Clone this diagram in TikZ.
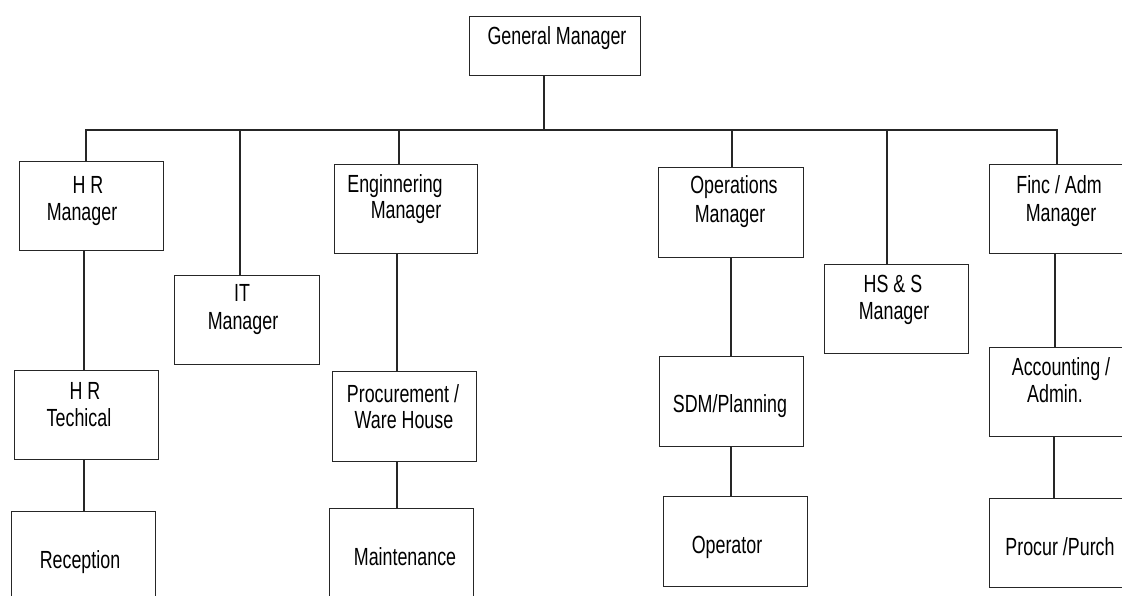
\documentclass[tikz,border=0pt]{standalone}
\usepackage{fontspec}
\setmainfont{Liberation Sans}[FakeStretch=0.72]
\definecolor{ink}{HTML}{262626}
\begin{document}
\begin{tikzpicture}[x=1pt,y=-1pt,
  box/.style={draw=ink, line width=1.3pt, rectangle, anchor=north west,
    inner sep=0pt, minimum width=144pt, minimum height=89pt},
  lbl/.style={anchor=base, inner sep=0pt, text=black,
    font=\fontsize{24.8}{28}\selectfont},
  wire/.style={draw=ink, line width=1.3pt}]
\useasboundingbox (0,0) rectangle (1122,595);
\clip (0,0) rectangle (1122,595);

% boxes
\node[box, minimum width=171pt, minimum height=59pt] (gm) at (469,16) {};
\node[box] (hrm) at (19,161) {};
\node[box, minimum width=145pt] (itm) at (174,275) {};
\node[box, minimum width=143pt] (eng) at (334,164) {};
\node[box, minimum width=145pt, minimum height=90pt] (ops) at (658,167) {};
\node[box] (hss) at (824,264) {};
\node[box, minimum width=150pt] (fin) at (989,164) {};
\node[box] (hrt) at (14,370) {};
\node[box, minimum height=100pt] (rec) at (11,511) {};
\node[box, minimum height=90pt] (prc) at (332,371) {};
\node[box, minimum height=100pt] (mnt) at (329,508) {};
\node[box, minimum height=90pt] (sdm) at (659,356) {};
\node[box, minimum height=90pt] (opr) at (663,496) {};
\node[box, minimum width=150pt] (acc) at (989,347) {};
\node[box, minimum width=150pt] (pur) at (989,498) {};

% labels
\node[lbl] (tgm) at (557,44) {General Manager};
\node[lbl] (thrm1) at (88,193) {H R};
\node[lbl] (thrm2) at (82,220) {Manager};
\node[lbl] (titm1) at (242,301) {IT};
\node[lbl] (titm2) at (243,329) {Manager};
\node[lbl] (teng1) at (395,192) {Enginnering};
\node[lbl] (teng2) at (406,218) {Manager};
\node[lbl] (tops1) at (734,193) {Operations};
\node[lbl] (tops2) at (730,222) {Manager};
\node[lbl] (thss1) at (893,292) {HS \& S};
\node[lbl] (thss2) at (894,319) {Manager};
\node[lbl] (tfin1) at (1059,193) {Finc / Adm};
\node[lbl] (tfin2) at (1061,221) {Manager};
\node[lbl] (thrt1) at (85,399) {H R};
\node[lbl] (thrt2) at (79,426) {Techical};
\node[lbl] (trec) at (80,568) {Reception};
\node[lbl] (tprc1) at (403,402) {Procurement /};
\node[lbl] (tprc2) at (404,428) {Ware House};
\node[lbl] (tmnt) at (405,565) {Maintenance};
\node[lbl] (tsdm) at (730,412) {SDM/Planning};
\node[lbl] (topr) at (727,553) {Operator};
\node[lbl] (tacc1) at (1061,375) {Accounting /};
\node[lbl] (tacc2) at (1055,402) {Admin.};
\node[lbl] (tpur) at (1060,555) {Procur /Purch};

% columns of the top-level bus
\coordinate (kgm) at (544,130);
\coordinate (khr) at (86,130);
\coordinate (kit) at (240,130);
\coordinate (ken) at (399,130);
\coordinate (kop) at (732,130);
\coordinate (khs) at (887,130);
\coordinate (kfn) at (1057,130);
% columns of the lower chains
\coordinate (chr) at (84,0);
\coordinate (cen) at (397,0);
\coordinate (cop) at (731,0);
\coordinate (cfn) at (1055,0);
\coordinate (cfn2) at (1054,0);

% bus and stems
\draw[wire] (gm.south -| kgm) -- (kgm);
\draw[wire] (hrm.north -| khr) -- (khr) -- (kfn) -- (fin.north -| kfn);
\draw[wire] (kit) -- (itm.north -| kit);
\draw[wire] (ken) -- (eng.north -| ken);
\draw[wire] (kop) -- (ops.north -| kop);
\draw[wire] (khs) -- (hss.north -| khs);

% chains below the managers
\draw[wire] (hrm.south -| chr) -- (hrt.north -| chr);
\draw[wire] (hrt.south -| chr) -- (rec.north -| chr);
\draw[wire] (eng.south -| cen) -- (prc.north -| cen);
\draw[wire] (prc.south -| cen) -- (mnt.north -| cen);
\draw[wire] (ops.south -| cop) -- (sdm.north -| cop);
\draw[wire] (sdm.south -| cop) -- (opr.north -| cop);
\draw[wire] (fin.south -| cfn) -- (acc.north -| cfn);
\draw[wire] (acc.south -| cfn2) -- (pur.north -| cfn2);
\end{tikzpicture}
\end{document}
